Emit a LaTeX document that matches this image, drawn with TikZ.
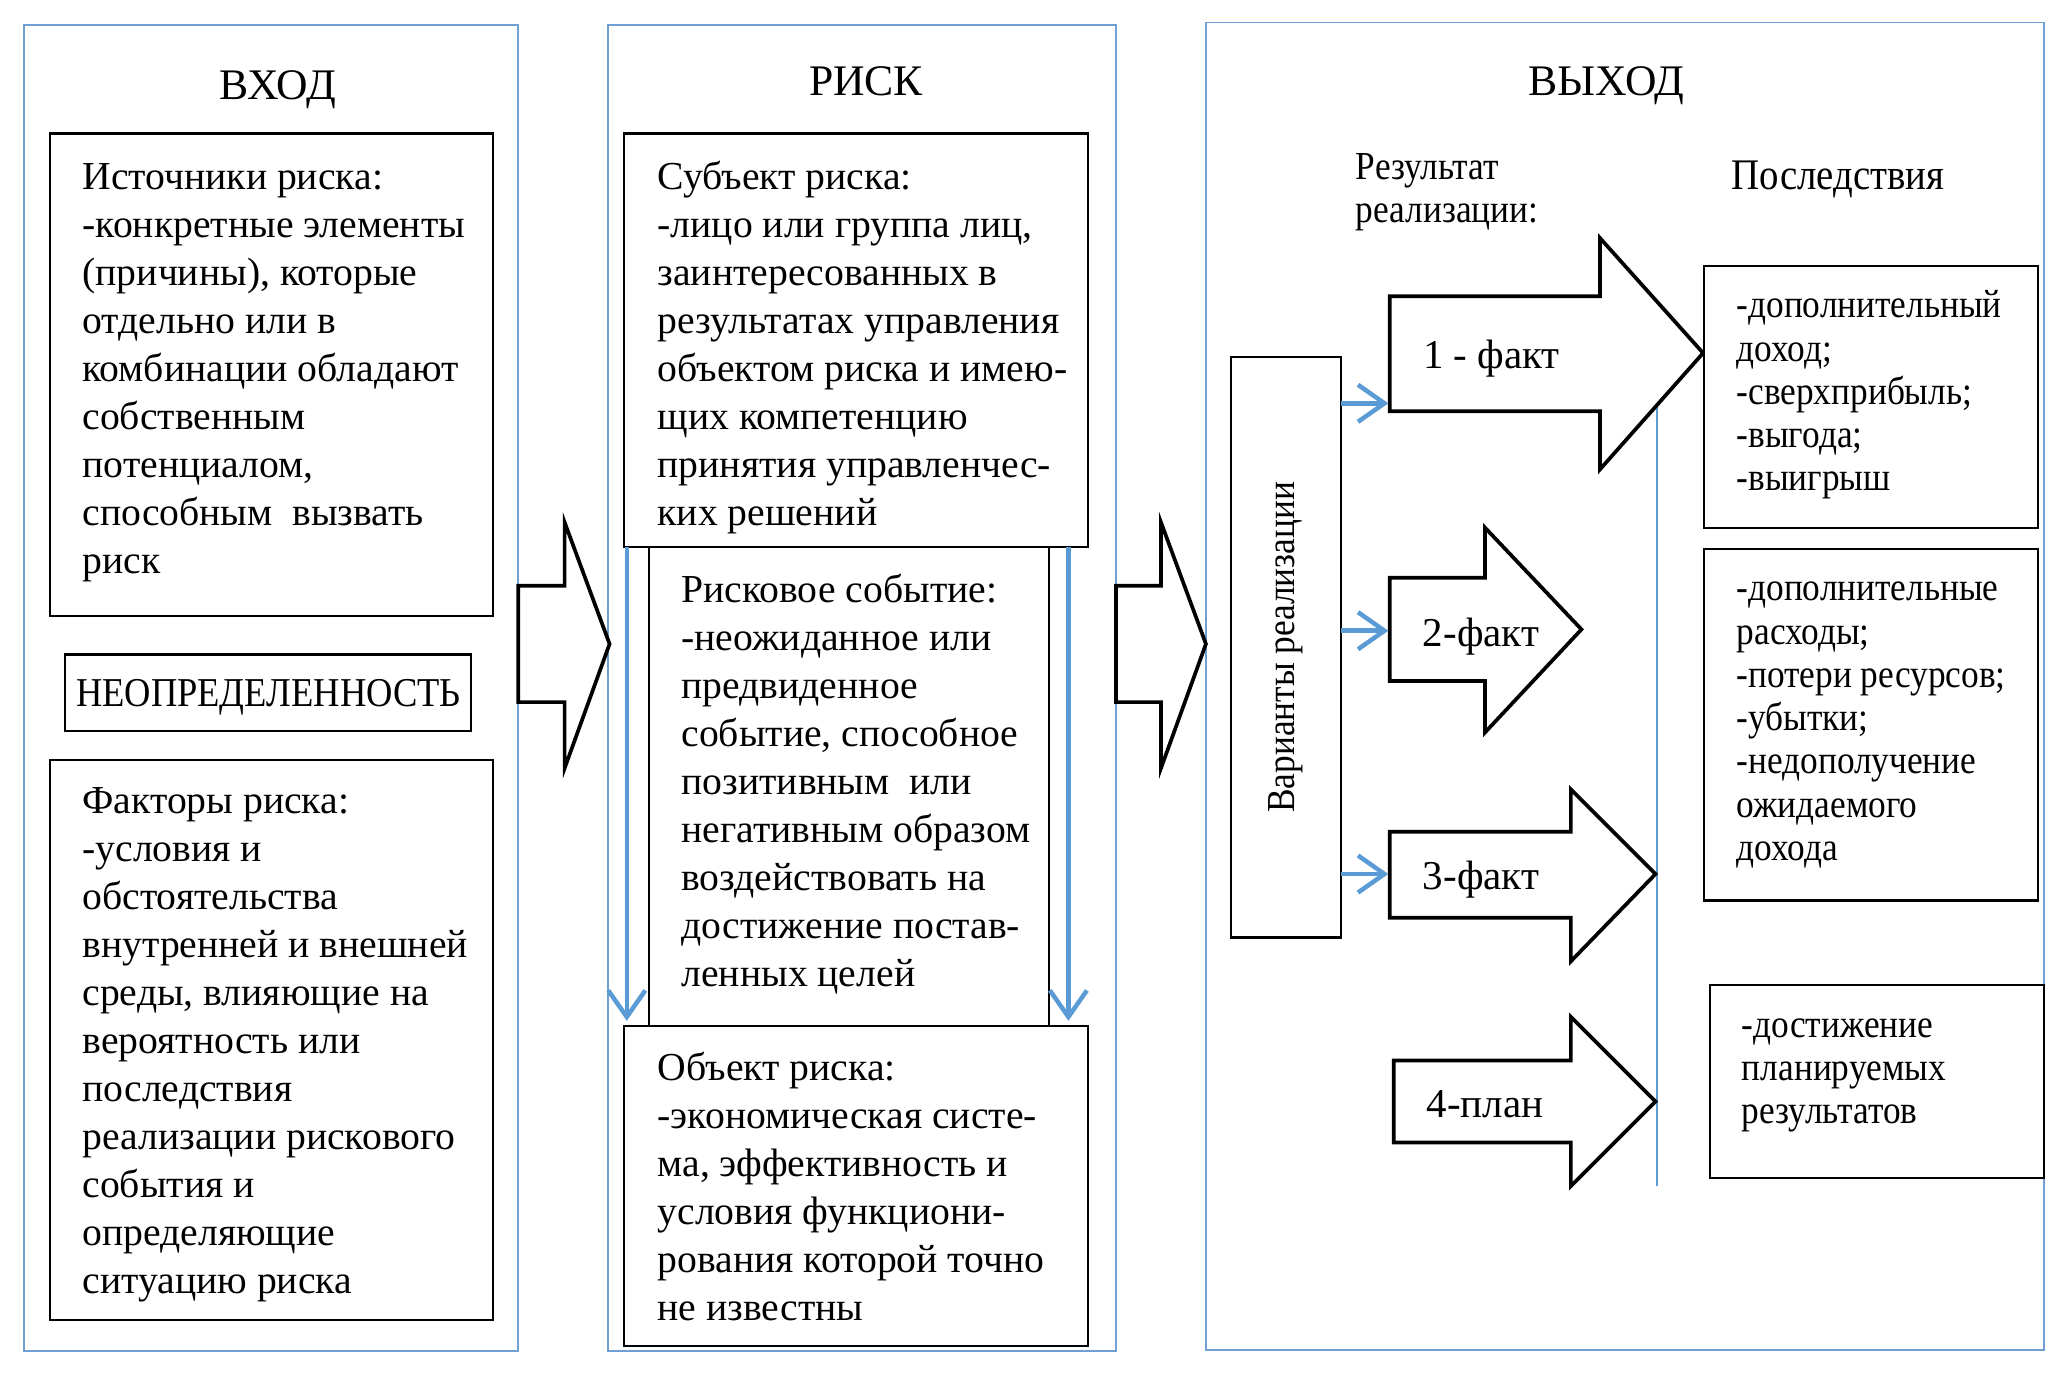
\documentclass[tikz,border=0pt]{standalone}
\usepackage{fontspec}
\setmainfont{Liberation Serif}
\newfontfamily\condfont{Liberation Serif}[FakeStretch=0.89]
\usetikzlibrary{arrows.meta,calc}
\definecolor{frameblue}{HTML}{6F9FD3}
\definecolor{arrblue}{HTML}{5B9BD5}
\newcommand\bodyfont{\fontsize{15}{18.15}\selectfont}
\newcommand\smallcond{\condfont\fontsize{15}{16.35}\selectfont}
\newcommand\bst{\rule{0pt}{13pt}}
\newcommand\sst{\rule{0pt}{12pt}}
\begin{document}
\begin{tikzpicture}[x=0.5pt,y=-0.5pt,
  frame/.style={draw=frameblue,line width=0.7pt,inner sep=0pt,outer sep=0pt,anchor=north west},
  bbox/.style={draw=black,line width=0.8pt,inner sep=0pt,outer sep=0pt,anchor=north west,fill=white},
  txt/.style={anchor=north west,align=left,inner sep=0pt,font=\bodyfont},
  ctxt/.style={anchor=north west,align=left,inner sep=0pt,font=\smallcond},
  title/.style={anchor=base,inner sep=0pt,font=\fontsize{16.5}{18}\selectfont},
  lbl/.style={anchor=base,inner sep=0pt,font=\fontsize{15.5}{18}\selectfont},
  bigarrow/.style={draw=black,line width=1.4pt,line join=miter,fill=white},
  bluearr/.style={draw=arrblue,line width=1.7pt,-{Straight Barb[length=10pt,width=14pt,line width=1.7pt]}},
  thinblue/.style={draw=arrblue,line width=0.7pt}
]
\useasboundingbox (0,0) rectangle (1567,1057.3);
\fill[white] (0,0) rectangle (1567,1057.3);

% outer frames
\node[frame,minimum width=187pt,minimum height=501.5pt] (fin) at (18,19) {};
\node[frame,minimum width=192pt,minimum height=501.5pt] (frisk) at (460,19) {};
\node[frame,minimum width=317pt,minimum height=502pt] (fout) at (912,17) {};

\node[title] (tin) at (210,75) {ВХОД};
\node[title] (trisk) at (655,72) {РИСК};
\node[title] (tout) at (1215,72) {ВЫХОД};

% left column
\node[bbox,minimum width=167.5pt,minimum height=182.5pt] (ist) at (38,101) {};
\node[txt] (istt) at (62,117) {\bst Источники риска:\\-конкретные элементы\\(причины), которые\\отдельно или в\\комбинации обладают\\собственным\\потенциалом,\\способным\ \ вызвать\\риск};
\node[bbox,minimum width=153.5pt,minimum height=29pt] (neo) at (49,495) {};
\node[anchor=base,inner sep=0pt,font=\condfont\fontsize{15.5}{16}\selectfont] (neot) at (203,534) {НЕОПРЕДЕЛЕННОСТЬ};
\node[bbox,minimum width=167.5pt,minimum height=211.5pt] (fak) at (38,575) {};
\node[txt] (fakt) at (62,589) {\bst Факторы риска:\\-условия и\\обстоятельства\\внутренней и внешней\\среды, влияющие на\\вероятность или\\последствия\\реализации рискового\\события и\\определяющие\\ситуацию риска};

% big arrows between columns
\draw[bigarrow] (392,443) -- (427,443) -- (427,395) -- (461,487) -- (427,581) -- (427,531) -- (392,531) -- cycle;
\draw[bigarrow] (844,443) -- (878,443) -- (878,395) -- (912,487) -- (878,581) -- (878,531) -- (844,531) -- cycle;

% middle column
\node[bbox,minimum width=151pt,minimum height=181pt] (sob) at (491,414) {};
\node[bbox,minimum width=175.5pt,minimum height=156.5pt] (subj) at (472,101) {};
\node[bbox,minimum width=175.5pt,minimum height=121pt] (obj) at (472,776) {};
\node[txt] (subjt) at (497,117) {\bst Субъект риска:\\-лицо или группа лиц,\\заинтересованных в\\результатах управления\\объектом риска и имею-\\щих компетенцию\\принятия управленчес-\\ких решений};
\node[txt] (sobt) at (515,429) {\bst Рисковое событие:\\-неожиданное или\\предвиденное\\событие, способное\\позитивным\ \ или\\негативным образом\\воздействовать на\\достижение постав-\\ленных целей};
\node[txt] (objt) at (497,791) {\bst Объект риска:\\-экономическая систе-\\ма, эффективность и\\условия функциони-\\рования которой точно\\не известны};
\draw[bluearr] ($(subj.south west)+(2,0)$) -- ($(obj.north west)+(2,-4)$);
\draw[bluearr] ($(subj.south east)+(-15,0)$) -- ($(obj.north east)+(-15,-4)$);

% right column
\node[ctxt] (res) at (1025,111) {\sst Результат\\реализации:};
\node[anchor=base,inner sep=0pt,font=\condfont\fontsize{16.5}{18}\selectfont] (posl) at (1390,143) {Последствия};
\node[bbox,minimum width=41.5pt,minimum height=219.5pt] (var) at (931,270) {};
\node[rotate=90,inner sep=0pt,font=\condfont\fontsize{15}{17}\selectfont] (vart) at (var.center) {Варианты реализации};

\draw[thinblue] (1253,306) -- (1253,897);

\draw[bigarrow] (1051,224) -- (1210,224) -- (1210,180) -- (1288,267) -- (1210,355) -- (1210,311) -- (1051,311) -- cycle;
\draw[bigarrow] (1051,437) -- (1123,437) -- (1123,399) -- (1196,476) -- (1123,554) -- (1123,515) -- (1051,515) -- cycle;
\draw[bigarrow] (1051,629) -- (1188,629) -- (1188,597) -- (1252,661) -- (1188,727) -- (1188,694) -- (1051,694) -- cycle;
\draw[bigarrow] (1054,802) -- (1188,802) -- (1188,769) -- (1252,833) -- (1188,897) -- (1188,864) -- (1054,864) -- cycle;
\coordinate (a1) at (1050,305);
\coordinate (a2) at (1050,477);
\coordinate (a3) at (1050,661);
\node[lbl] (f1) at (1128,279) {1 - факт};
\node[lbl] (f2) at (1120,489) {2-факт};
\node[lbl] (f3) at (1120,673) {3-факт};
\node[lbl] (f4) at (1123,845) {4-план};

\draw[bluearr] (var.east |- a1) -- (a1);
\draw[bluearr] (var.east |- a2) -- (a2);
\draw[bluearr] (var.east |- a3) -- (a3);

\node[bbox,minimum width=126pt,minimum height=99pt] (p1) at (1289,201) {};
\node[ctxt] (p1t) at (1313,216) {\sst -дополнительный\\доход;\\-сверхприбыль;\\-выгода;\\-выигрыш};
\node[bbox,minimum width=126pt,minimum height=133pt] (p2) at (1289,415) {};
\node[ctxt] (p2t) at (1313,430) {\sst -дополнительные\\расходы;\\-потери ресурсов;\\-убытки;\\-недополучение\\ожидаемого\\дохода};
\node[bbox,minimum width=126.5pt,minimum height=73pt] (p3) at (1293,745) {};
\node[ctxt] (p3t) at (1317,760) {\sst -достижение\\планируемых\\результатов};
\end{tikzpicture}
\end{document}
